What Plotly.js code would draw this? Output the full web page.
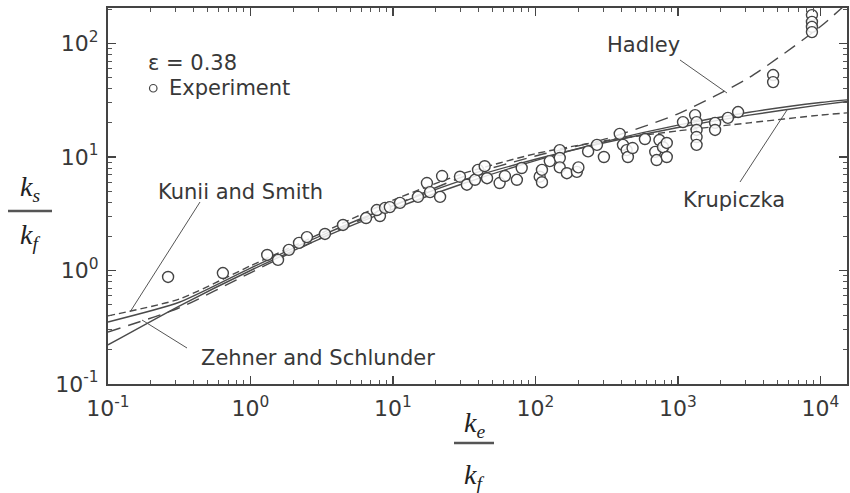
<!DOCTYPE html>
<html>
<head>
<meta charset="utf-8">
<script src="https://cdn.plot.ly/plotly-3.0.1.min.js"></script>
<style>html,body{margin:0;padding:0;background:#fff;}#chart{width:850px;height:493px;}</style>
</head>
<body>
<div id="chart"></div>
<script>
// ---- data ----
const expX = [0.264, 0.64, 1.31, 1.56, 1.86, 2.19, 2.49, 3.33, 4.46, 6.47, 8.1, 7.7, 8.8, 9.5, 11.2,
  14.96, 17.3, 18.2, 21.4, 22.1, 29.5, 33, 37.6, 39.5, 44, 45.7, 56, 61, 74, 80,
  107, 111, 111, 126, 148, 148, 148, 166, 195, 200, 234, 270, 302,
  390, 411, 436, 445, 480, 586, 692, 708, 741, 785, 834, 834,
  1084, 1318, 1350, 1350, 1350, 1350, 1820, 1820, 2240, 2640,
  4650, 4650, 8710, 8710, 8710, 8710];
const expY = [0.877, 0.95, 1.37, 1.24, 1.52, 1.75, 1.97, 2.10, 2.52, 2.90, 3.02, 3.41, 3.56, 3.62, 3.94,
  4.45, 5.9, 4.9, 4.45, 6.8, 6.7, 5.7, 6.3, 7.7, 8.3, 6.5, 5.9, 6.8, 6.3, 8.0,
  6.7, 7.7, 6.0, 9.2, 11.5, 9.8, 8.1, 7.2, 7.4, 8.1, 11.2, 12.8, 10.0,
  16, 12.8, 11.5, 10.0, 12.0, 14.4, 11.1, 9.4, 14.1, 12.2, 13.3, 10.0,
  20.3, 23.4, 20.3, 17.3, 15.0, 12.8, 20, 17.3, 22.1, 24.9,
  52.7, 45.7, 178, 155, 140, 126];

const curveX = [0.1, 0.316, 1, 3.16, 10, 31.6, 100, 316, 1000, 3160, 10000, 15500];
const kuniiY = [0.398, 0.56, 1.10, 2.14, 4.17, 7.2, 10.7, 14.0, 17.0, 20.0, 23.4, 24.5];
const zehnerY = [0.352, 0.525, 1.05, 2.04, 3.72, 6.31, 9.55, 13.5, 18.2, 23.4, 28.8, 30.9];
const hadleyY = [0.287, 0.468, 0.955, 1.95, 3.72, 6.75, 10.2, 14.5, 24.0, 50.1, 141, 229];
const krupY = [0.221, 0.486, 1.0, 1.93, 3.47, 5.87, 9.29, 13.8, 19.1, 24.8, 30.2, 31.9];

const tickVals = [0.1, 1, 10, 100, 1000, 10000];
const tickText = ['10<sup>-1</sup>', '10<sup>0</sup>', '10<sup>1</sup>', '10<sup>2</sup>', '10<sup>3</sup>', '10<sup>4</sup>'];
const labelText = ['Hadley', 'Krupiczka', 'Kunii and Smith', 'Zehner and Schlunder'];

// ---- layout helpers ----
const L = 108, R = 847, T = 8, B = 384;
const px = v => (v - L) / (R - L);
const py = v => (B - v) / (B - T);
const ink = '#383838';
const lineC = '#4a4a4a';

// minor tick positions (2..9 within each decade)
const minorVals = [];
for (let e = -1; e <= 4; e++) for (let m = 2; m <= 9; m++) minorVals.push(m * Math.pow(10, e));

function curve(y, dash, name) {
  return {x: curveX, y: y, mode: 'lines', name: name, line: {color: lineC, width: 1.4, dash: dash, shape: 'spline', smoothing: 0.6}, hoverinfo: 'skip'};
}

const traces = [
  curve(kuniiY, '7px,4px', labelText[2]),
  curve(zehnerY, 'solid', labelText[3]),
  curve(hadleyY, '13px,8px', labelText[0]),
  curve(krupY, 'solid', labelText[1]),
  {x: expX, y: expY, mode: 'markers', name: 'Experiment',
   marker: {symbol: 'circle', size: 11, color: 'rgba(255,255,255,0.85)', line: {color: '#444', width: 1.4}}}
];

const sans = 'DejaVu Sans, Verdana, sans-serif';
const axisCommon = {
  type: 'log', tickmode: 'array', tickvals: tickVals, ticktext: tickText,
  showgrid: false, zeroline: false,
  showline: true, linecolor: '#444', linewidth: 2, mirror: 'ticks',
  ticks: 'inside', ticklen: 8, tickwidth: 1.2, tickcolor: '#444',
  minor: {tickmode: 'array', tickvals: minorVals, ticks: 'inside', ticklen: 4, tickwidth: 1, tickcolor: '#555', showgrid: false},
  tickfont: {family: sans, size: 22, color: ink}
};

const textFont = {family: sans, size: 21, color: ink};
const kFont = {family: 'Liberation Serif, Times New Roman, serif', size: 28, color: '#222'};

function ann(text, x, y, xanchor, font) {
  return {text: text, xref: 'paper', yref: 'paper', x: px(x), y: py(y), xanchor: xanchor || 'center', yanchor: 'middle', showarrow: false, font: font || textFont};
}
function seg(x0, y0, x1, y1, w) {
  return {type: 'line', xref: 'paper', yref: 'paper', x0: px(x0), y0: py(y0), x1: px(x1), y1: py(y1), line: {color: '#555', width: w || 1}};
}

const layout = {
  width: 850, height: 493,
  margin: {l: L, r: 850 - R, t: T, b: 493 - B},
  paper_bgcolor: '#fff', plot_bgcolor: '#fff',
  showlegend: false,
  xaxis: Object.assign({}, axisCommon, {range: [-1, -1 + (R - L) / 142.5], ticklabelstandoff: 4}),
  yaxis: Object.assign({}, axisCommon, {range: [-1, -1 + (B - T) / 113.5], ticklabelstandoff: 3}),
  annotations: [
    ann('ε = 0.38', 146, 63, 'left'),
    ann('Experiment', 167, 88, 'left'),
    ann(labelText[0], 643, 45),
    ann(labelText[1], 734, 200),
    ann(labelText[2], 240, 192),
    ann(labelText[3], 318, 358),
    ann('<i>k</i><sub><i>s</i></sub>', 30, 188, 'center', kFont),
    ann('<i>k</i><sub><i>f</i></sub>', 30, 236, 'center', kFont),
    ann('<i>k</i><sub><i>e</i></sub>', 474, 424, 'center', kFont),
    ann('<i>k</i><sub><i>f</i></sub>', 474, 476, 'center', kFont)
  ],
  shapes: [
    {type: 'circle', xref: 'paper', yref: 'paper', x0: px(149.5), x1: px(157), y0: py(84.5), y1: py(92), line: {color: '#444', width: 1.2}},
    seg(680, 60, 727, 93),
    seg(740, 182, 787, 110),
    seg(200, 202, 130, 312),
    seg(187, 348, 142, 320),
    seg(8, 211, 52, 211, 2.5),
    seg(454, 443, 494, 443, 2.5)
  ]
};

Plotly.newPlot('chart', traces, layout, {staticPlot: true, displayModeBar: false});
</script>
</body>
</html>
